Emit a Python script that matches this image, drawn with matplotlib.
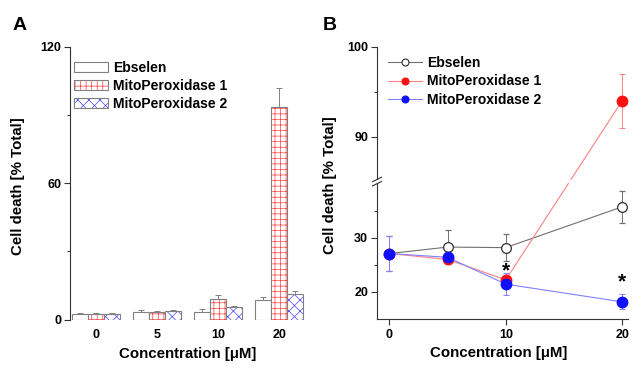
import numpy as np
import matplotlib
matplotlib.use("Agg")
import matplotlib.pyplot as plt
from matplotlib.patches import Patch, Rectangle
from matplotlib.lines import Line2D
from matplotlib.legend_handler import HandlerTuple
import matplotlib.transforms as mtransforms

plt.rcParams['font.family'] = ['Liberation Sans', 'DejaVu Sans']
plt.rcParams['font.weight'] = 'bold'
plt.rcParams['hatch.linewidth'] = 0.5

# ---------------- data ----------------
conc_labels = ["0", "5", "10", "20"]
series_names = ["Ebselen", "MitoPeroxidase 1", "MitoPeroxidase 2"]

bar_ebselen = [2.6, 3.1, 3.5, 8.5]
bar_ebselen_err = [0.3, 1.0, 1.0, 1.3]
bar_mp1 = [2.6, 3.5, 9.1, 93.3]
bar_mp1_err = [0.3, 0.3, 1.8, 8.4]
bar_mp2 = [2.6, 3.8, 5.4, 11.1]
bar_mp2_err = [0.3, 0.4, 0.4, 1.5]

conc = [0, 5, 10, 20]
line_ebselen = [27.1, 28.3, 28.2, 35.8]
line_ebselen_err = [3.2, 3.2, 2.5, 3.0]
line_mp1 = [27.1, 26.0, 22.2, 94.0]
line_mp1_err = [3.2, 0.5, 1.3, 3.0]
line_mp2 = [27.1, 26.4, 21.4, 18.1]
line_mp2_err = [3.2, 0.5, 2.1, 1.4]
star_x = [10, 20]
star_y = [23.8, 21.8]

# ---------------- figure ----------------
W, H = 633, 369
fig = plt.figure(figsize=(W / 100, H / 100), dpi=100)

def rect(l, t, r, b):
    return [l / W, 1 - b / H, (r - l) / W, (b - t) / H]

GRAY = '#808080'
tick_fs = 9
label_fs = 10.8
leg_fs = 10
RED_H = '#ff4040'
BLUE_H = '#4848ff'

# ===== Panel A =====
axA = fig.add_axes(rect(70, 46.7, 312, 319.5))
x = np.arange(len(conc_labels))
bw = 0.262
ekA = dict(ecolor=GRAY, capsize=2.5, elinewidth=0.7, capthick=0.7)
# Ebselen
axA.bar(x - bw, bar_ebselen, bw, facecolor='white', edgecolor=GRAY, lw=0.8,
        yerr=[np.zeros(4), bar_ebselen_err], error_kw=ekA)
# MP1 (red grid hatch)
axA.bar(x, bar_mp1, bw, facecolor='white', edgecolor=RED_H, lw=0, hatch='+++')
axA.bar(x, bar_mp1, bw, fill=False, edgecolor=GRAY, lw=0.8,
        yerr=[np.zeros(4), bar_mp1_err], error_kw=ekA)
# MP2 (blue cross hatch)
axA.bar(x + bw, bar_mp2, bw, facecolor='white', edgecolor=BLUE_H, lw=0, hatch='xxx')
axA.bar(x + bw, bar_mp2, bw, fill=False, edgecolor=GRAY, lw=0.8,
        yerr=[np.zeros(4), bar_mp2_err], error_kw=ekA)

axA.set_xlim(-0.43, 3.54)
axA.set_ylim(0, 120)
axA.set_yticks([0, 60, 120])
axA.set_yticks([30, 90], minor=True)
axA.set_xticks(x)
axA.set_xticklabels(conc_labels)
for s in ['top', 'right', 'bottom']:
    axA.spines[s].set_visible(False)
axA.spines['left'].set_color('#333333')
axA.tick_params(axis='y', which='major', direction='out', length=4.3, width=0.8, pad=2, labelsize=tick_fs, color='#333333')
axA.tick_params(axis='y', which='minor', direction='out', length=2.5, width=0.8, color='#333333')
axA.tick_params(axis='x', length=0, pad=7, labelsize=tick_fs)
axA.set_ylabel("Cell death [% Total]", fontsize=label_fs, fontweight='bold')
axA.yaxis.set_label_coords(-0.186, 0.49)
axA.set_xlabel("Concentration [\u03bcM]", fontsize=label_fs, fontweight='bold')
axA.xaxis.set_label_coords(0.486, -0.10)

hA = [
    Patch(facecolor='white', edgecolor=GRAY, lw=0.8),
    (Patch(facecolor='white', edgecolor=RED_H, lw=0, hatch='+++'), Patch(fill=False, edgecolor=GRAY, lw=0.8)),
    (Patch(facecolor='white', edgecolor=BLUE_H, lw=0, hatch='xxx'), Patch(fill=False, edgecolor=GRAY, lw=0.8)),
]
axA.legend(hA, series_names, loc='upper left', bbox_to_anchor=(0.017, 0.948), frameon=False,
           fontsize=leg_fs, handlelength=2.45, handleheight=0.75, handletextpad=0.35,
           labelspacing=0.3, borderaxespad=0, borderpad=0,
           handler_map={tuple: HandlerTuple(ndivide=1, pad=0)})
fig.text(13 / W, 1 - 25 / H, "A", fontsize=14, fontweight='bold', va='center', ha='left')

# ===== Panel B (broken y axis via function scale) =====
BLO, BHI, GAP, RATIO = 40.2, 85.2, 0.6, 1.677

def fwd(y):
    y = np.asarray(y, dtype=float)
    return np.where(y <= BLO, y,
                    np.where(y < BHI, BLO + (y - BLO) / (BHI - BLO) * GAP,
                             BLO + GAP + (y - BHI) * RATIO))

def inv(v):
    v = np.asarray(v, dtype=float)
    return np.where(v <= BLO, v,
                    np.where(v < BLO + GAP, BLO + (v - BLO) / GAP * (BHI - BLO),
                             BHI + (v - BLO - GAP) / RATIO))

axB = fig.add_axes(rect(377, 46.7, 628, 318.5))
axB.set_yscale('function', functions=(fwd, inv))
axB.set_ylim(15, 100)
axB.set_xlim(-1.06, 20.5)

ek = dict(capsize=2.5, elinewidth=0.7, capthick=0.7)
styles = [
    dict(color='#707070', marker='o', ms=7, mfc='white', mec='#303030', mew=0.9, ecolor='#707070'),
    dict(color='#ff8080', marker='o', ms=7.5, mfc='#ff1010', mec='#ff1010', ecolor='#ff8080'),
    dict(color='#8080ff', marker='o', ms=7.5, mfc='#1010ff', mec='#1010ff', ecolor='#8080ff'),
]
for yv, ye, st in zip([line_ebselen, line_mp1, line_mp2],
                      [line_ebselen_err, line_mp1_err, line_mp2_err], styles):
    axB.errorbar(conc, yv, yerr=ye, lw=0.8, **st, **ek)
for sx, sy in zip(star_x, star_y):
    axB.text(sx, sy, "*", fontsize=15, fontweight='bold', ha='center', va='center')

# white gap across plot at the break
axB.axhspan(BLO, BHI, color='white', zorder=2.2, lw=0)

axB.set_yticks([20, 30, 90, 100])
axB.set_yticks([25, 35, 95], minor=True)
axB.set_xticks([0, 10, 20])
axB.set_xticks([], minor=True)
for s in ['top', 'right']:
    axB.spines[s].set_visible(False)
for s in ['left', 'bottom']:
    axB.spines[s].set_color('#333333')
axB.tick_params(axis='y', which='major', direction='out', length=4.3, width=0.8, pad=2, labelsize=tick_fs, color='#333333')
axB.tick_params(axis='y', which='minor', direction='out', length=2.5, width=0.8, color='#333333')
axB.tick_params(axis='x', which='major', direction='out', length=4.5, width=0.8, pad=3, labelsize=tick_fs, color='#333333')
axB.set_ylabel("Cell death [% Total]", fontsize=label_fs, fontweight='bold')
axB.yaxis.set_label_coords(-0.159, 0.49)
axB.set_xlabel("Concentration [\u03bcM]", fontsize=label_fs, fontweight='bold')
axB.xaxis.set_label_coords(0.485, -0.10)
hB = [Line2D([], [], color=st['color'], lw=0.8, marker='o', ms=5,
             mfc=st['mfc'], mec=st['mec'], mew=0.8) for st in styles]
axB.legend(hB, series_names, loc='upper left', bbox_to_anchor=(0.042, 0.965), frameon=False, fontsize=leg_fs,
           handlelength=2.5, handletextpad=0.35, labelspacing=0.3, borderaxespad=0, borderpad=0)
fig.text(323 / W, 1 - 25 / H, "B", fontsize=14, fontweight='bold', va='center', ha='left')

# break marks on the y-axis
mid = 0.5 * (BLO + BHI)
xd, yd = axB.transData.transform((axB.get_xlim()[0], mid))
ylo = axB.transData.transform((0, BLO))[1]
yhi = axB.transData.transform((0, BHI))[1]
fig.add_artist(Rectangle((xd - 2, ylo), 4, yhi - ylo, transform=mtransforms.IdentityTransform(),
                         facecolor='white', edgecolor='none', zorder=5))
for yy in (ylo - 0.5, yhi + 0.5):
    fig.add_artist(Line2D([xd - 4.5, xd + 4.5], [yy - 2.2, yy + 2.2], transform=mtransforms.IdentityTransform(),
                          color='#333333', lw=0.8, zorder=6))

fig.savefig("out.png", dpi=100)
